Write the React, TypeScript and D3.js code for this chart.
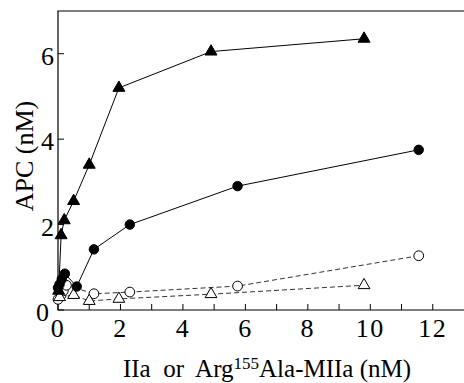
import React, { useEffect, useRef } from 'react';
import * as d3 from 'd3';

// filled triangles
const triX = [0.02, 0.1, 0.2, 0.5, 1.0, 1.95, 4.9, 9.8];
const triY = [0.45, 1.75, 2.1, 2.55, 3.4, 5.2, 6.05, 6.35];
// filled circles
const dotX = [0, 0.05, 0.12, 0.22, 0.6, 1.15, 2.3, 5.75, 11.55];
const dotY = [0.52, 0.6, 0.72, 0.85, 0.55, 1.42, 2.0, 2.9, 3.75];
// open circles
const ocX = [0, 0.1, 0.17, 0.27, 1.15, 2.3, 5.75, 11.55];
const ocY = [0.25, 0.35, 0.45, 0.58, 0.38, 0.42, 0.56, 1.27];
// open triangles
const otX = [0.05, 0.5, 1.0, 1.95, 4.9, 9.8];
const otY = [0.3, 0.35, 0.21, 0.26, 0.37, 0.58];

const xTicks = [0, 2, 4, 6, 8, 10, 12];
const xMinor = [1, 3, 5, 7, 9, 11];
const yTicks = [0, 2, 4, 6];

const App = () => {
  const svgRef = useRef<SVGSVGElement>(null);

  useEffect(() => {
    const width = 464, height = 383;
    const margin = { top: 11, right: 0, bottom: 73, left: 58 };
    const svg = d3.select(svgRef.current).attr('width', width).attr('height', height);
    svg.selectAll('*').remove();

    const x = d3.scaleLinear().domain([0, 13]).range([margin.left, width - margin.right]);
    const y = d3.scaleLinear().domain([0, 7]).range([height - margin.bottom, margin.top]);
    const font = '"Liberation Serif", "Times New Roman", serif';

    // frame: left, top, bottom
    svg.append('path')
      .attr('d', `M${width},${y(7)}H${x(0)}V${y(0)}H${width}`)
      .attr('fill', 'none').attr('stroke', '#000').attr('stroke-width', 1.2);

    // ticks pointing inward
    const g = svg.append('g');
    g.selectAll('.xt').data(xTicks.concat(xMinor)).join('line')
      .attr('x1', (d) => x(d)).attr('x2', (d) => x(d))
      .attr('y1', y(0)).attr('y2', y(0) - 6)
      .attr('stroke', '#000');
    g.selectAll('.yt').data(yTicks).join('line')
      .attr('x1', x(0)).attr('x2', x(0) + 6)
      .attr('y1', (d) => y(d)).attr('y2', (d) => y(d))
      .attr('stroke', '#000');

    svg.append('g').selectAll('text').data(xTicks).join('text')
      .attr('x', (d) => x(d)).attr('y', y(0) + 27)
      .attr('text-anchor', 'middle')
      .style('letter-spacing', '1.5px')
      .style('font-family', font).style('font-size', '26px')
      .text((d) => d);
    svg.append('g').selectAll('text').data(yTicks).join('text')
      .attr('x', (d) => (d === 0 ? x(0) - 9 : x(0) - 4)).attr('y', (d) => y(d) + 11)
      .attr('text-anchor', 'end')
      .style('font-family', font).style('font-size', '26px')
      .text((d) => d);

    // axis titles
    svg.append('text')
      .attr('transform', `translate(33,${156}) rotate(-90)`)
      .attr('text-anchor', 'middle')
      .style('font-family', font).style('font-size', '26px')
      .text('APC (nM)');
    const xt = svg.append('text')
      .attr('x', 267).attr('y', 377)
      .attr('text-anchor', 'middle')
      .style('white-space', 'pre')
      .style('font-family', font).style('font-size', '25px');
    xt.append('tspan').text('IIa  or  Arg');
    xt.append('tspan').attr('dy', -8).style('font-size', '17px').text('155');
    xt.append('tspan').attr('dy', 8).text('Ala-MIIa (nM)');

    const line = d3.line<[number, number]>().x((d) => x(d[0])).y((d) => y(d[1]));
    const zip = (xs: number[], ys: number[]) => xs.map((v, i) => [v, ys[i]] as [number, number]);

    const series = [
      { pts: zip(ocX, ocY), dash: '5,3', shape: d3.symbolCircle, fill: '#fff', size: 75 },
      { pts: zip(otX, otY), dash: '5,3', shape: d3.symbolTriangle, fill: '#fff', size: 60 },
      { pts: zip(dotX, dotY), dash: null, shape: d3.symbolCircle, fill: '#000', size: 70 },
      { pts: zip(triX, triY), dash: null, shape: d3.symbolTriangle, fill: '#000', size: 62 },
    ];

    series.forEach((s) => {
      svg.append('path').datum(s.pts)
        .attr('d', line)
        .attr('fill', 'none')
        .attr('stroke', s.dash ? '#333' : '#000')
        .attr('stroke-width', 1)
        .attr('stroke-dasharray', s.dash);
    });
    series.forEach((s) => {
      svg.append('g').selectAll('path').data(s.pts).join('path')
        .attr('transform', (d) => `translate(${x(d[0])},${y(d[1])})`)
        .attr('d', d3.symbol().type(s.shape).size(s.size)())
        .attr('fill', s.fill)
        .attr('stroke', '#000')
        .attr('stroke-width', 1);
    });
  }, []);

  return <svg ref={svgRef} style={{ position: 'absolute', left: 0, top: 0 }} />;
};

export default App;
